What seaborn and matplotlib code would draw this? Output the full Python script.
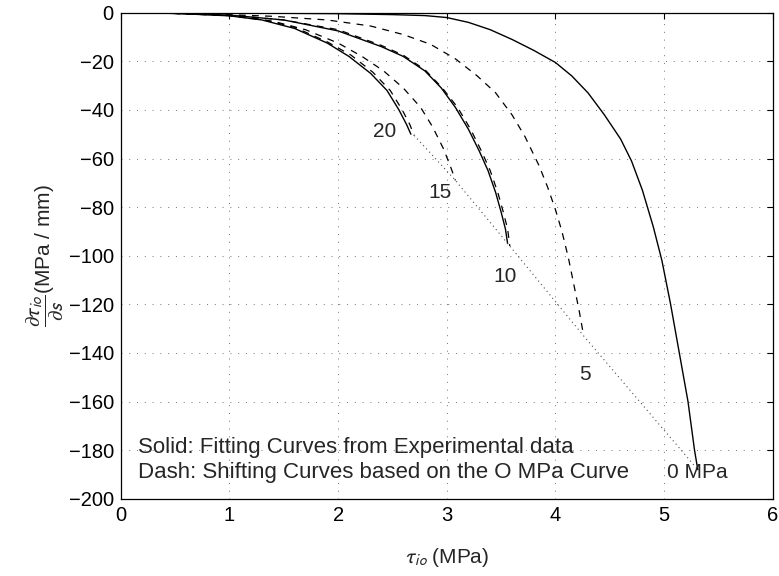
import matplotlib
matplotlib.use("Agg")
import matplotlib.pyplot as plt
import seaborn as sns
import pandas as pd

# ---- data ----
# 0 MPa (solid, experimental fit)
x_0s = [0, 1.0, 2.0, 2.5, 2.8, 3.0, 3.2, 3.4, 3.6, 3.8, 4.0, 4.15, 4.3, 4.45, 4.6, 4.7, 4.8, 4.9, 4.98, 5.06, 5.14, 5.22, 5.28, 5.31]
y_0s = [0, -0.1, -0.4, -0.8, -1.2, -2, -4, -7, -11, -15.5, -20.5, -26, -33, -42, -52, -61, -73, -88, -102, -120, -140, -160, -180, -188]
# 10 MPa (solid)
x_10s = [0, 0.5, 1.0, 1.5, 2.0, 2.4, 2.6, 2.8, 2.95, 3.08, 3.2, 3.3, 3.38, 3.45, 3.5, 3.54, 3.56]
y_10s = [0, -0.3, -1.0, -3.0, -7.5, -14, -18, -24, -31, -39, -48, -57, -65, -74, -82, -89, -95]
# 20 MPa (solid)
x_20s = [0, 0.5, 1.0, 1.3, 1.6, 1.9, 2.1, 2.3, 2.45, 2.56, 2.63, 2.67]
y_20s = [0, -0.3, -1.3, -3.0, -6.5, -12.5, -18, -25, -32, -40, -46, -50]
# dashed (shifted from the 0 MPa curve)
x_5d = [0, 0.8, 1.4, 1.9, 2.3, 2.6, 2.85, 3.08, 3.28, 3.45, 3.6, 3.72, 3.85, 3.93, 4.0, 4.06, 4.12, 4.17, 4.22, 4.26]
y_5d = [0, -0.5, -1.5, -3, -5.5, -9, -13, -19, -26, -33, -42, -51, -63, -72, -81, -90, -101, -112, -123, -133]
x_10d = [0, 0.5, 1.0, 1.5, 2.0, 2.4, 2.6, 2.8, 2.96, 3.1, 3.22, 3.32, 3.4, 3.47, 3.52, 3.56, 3.58]
y_10d = [0, -0.3, -1.0, -3.0, -7.0, -13.5, -17.5, -23.5, -31, -39, -48, -57, -65, -74, -82, -89, -96]
x_15d = [0, 0.5, 1.0, 1.4, 1.7, 2.0, 2.22, 2.42, 2.6, 2.76, 2.87, 2.97, 3.04, 3.08]
y_15d = [0, -0.3, -1.2, -3.5, -7, -12.5, -18, -24, -31, -39, -47, -56, -64, -69]
x_20d = [0, 0.5, 1.0, 1.3, 1.6, 1.9, 2.12, 2.32, 2.48, 2.59, 2.66, 2.70]
y_20d = [0, -0.3, -1.2, -2.8, -6, -12, -17.5, -24.5, -32, -40, -46, -50.5]

curve_labels = ["20", "15", "10", "5", "0 MPa"]
label_x = [2.43, 2.94, 3.54, 4.27, 5.31]
label_y = [-49, -74, -108.5, -149, -189]

x_ticks = [0, 1, 2, 3, 4, 5, 6]
y_ticks = [-200, -180, -160, -140, -120, -100, -80, -60, -40, -20, 0]

legend_lines = ["Solid: Fitting Curves from Experimental data",
                "Dash: Shifting Curves based on the O MPa Curve"]

# ---- style ----
sns.set_style("white")
plt.rcParams["font.family"] = ["Liberation Sans", "DejaVu Sans"]
plt.rcParams["mathtext.fontset"] = "stixsans"
plt.rcParams["axes.unicode_minus"] = True

fig = plt.figure(figsize=(7.79, 5.76), dpi=100)
ax = fig.add_axes([0.155, 0.134, 0.837, 0.844])

solid = [(x_0s, y_0s), (x_10s, y_10s), (x_20s, y_20s)]
dashed = [(x_5d, y_5d), (x_10d, y_10d), (x_15d, y_15d), (x_20d, y_20d)]

for xs, ys in solid:
    df = pd.DataFrame({"x": xs, "y": ys})
    sns.lineplot(data=df, x="x", y="y", ax=ax, sort=False, estimator=None,
                 color="black", lw=1.0)
for xs, ys in dashed:
    df = pd.DataFrame({"x": xs, "y": ys})
    sns.lineplot(data=df, x="x", y="y", ax=ax, sort=False, estimator=None,
                 color="black", lw=0.9, linestyle=(0, (5.5, 5)))

# dotted envelope through the curve ends
env = pd.DataFrame({"x": [x_20d[-1], x_15d[-1], x_10d[-1], x_5d[-1], x_0s[-1]],
                    "y": [y_20d[-1], y_15d[-1], y_10d[-1], y_5d[-1], y_0s[-1]]})
sns.lineplot(data=env, x="x", y="y", ax=ax, sort=False, estimator=None,
             color="0.3", lw=0.8, linestyle=(0, (1, 3)))

for t, lx, ly in zip(curve_labels, label_x, label_y):
    ax.text(lx, ly, t, ha="center", va="center", fontsize=15)

ax.text(0.16, -179, legend_lines[0], ha="left", va="center", fontsize=16)
ax.text(0.16, -189, legend_lines[1], ha="left", va="center", fontsize=16)

ax.set_xlim(0, 6)
ax.set_ylim(-200, 0)
ax.set_xticks(x_ticks)
ax.set_yticks(y_ticks)
ax.grid(True, color="0.45", lw=0.7, linestyle=(0, (1, 7)))
ax.tick_params(direction="in", top=True, right=True, length=4, width=0.8,
               labelsize=14.5, colors="black", pad=5)
for s in ax.spines.values():
    s.set_color("black")
    s.set_linewidth(0.9)

ax.set_xlabel(r"$\tau_{io}$ (MPa)", fontsize=15, labelpad=15)
ax.set_ylabel(r"$\dfrac{\partial\tau_{io}}{\partial s}$(MPa / mm)", fontsize=15, labelpad=2)

fig.savefig("out.png", dpi=100)
